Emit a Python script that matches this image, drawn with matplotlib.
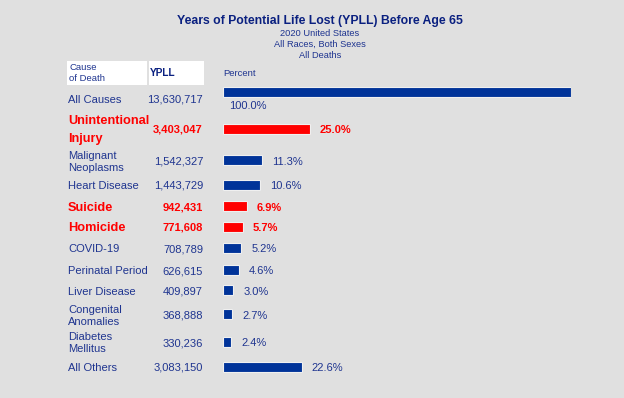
import matplotlib
matplotlib.use("Agg")
import matplotlib.pyplot as plt

# ---- data ----
causes = ["All Causes", "Unintentional\nInjury", "Malignant\nNeoplasms", "Heart Disease",
          "Suicide", "Homicide", "COVID-19", "Perinatal Period", "Liver Disease",
          "Congenital\nAnomalies", "Diabetes\nMellitus", "All Others"]
ypll = [13630717, 3403047, 1542327, 1443729, 942431, 771608, 708789, 626615,
        409897, 368888, 330236, 3083150]
percent = [100.0, 25.0, 11.3, 10.6, 6.9, 5.7, 5.2, 4.6, 3.0, 2.7, 2.4, 22.6]
highlight = [False, True, False, False, True, True, False, False, False, False, False, False]

# ---- layout (pixel positions) ----
W, H = 624, 398
text_y = [100, 130, 162, 186, 208, 228, 249, 271, 292, 316, 343, 368]
bar_y = [92, 129, 160, 185, 206, 227, 248, 270, 290, 314, 342, 367]

BG = "#e0e0e0"
BLUE = "#003399"
NAVY = "#1f3590"
TITLE = "#0a2080"
RED = "#ff0000"

plt.rcParams['font.family'] = ['Liberation Sans', 'DejaVu Sans']

fig = plt.figure(figsize=(W / 100, H / 100), dpi=100, facecolor=BG)

# overlay axes in pixel coordinates for text
ax = fig.add_axes([0, 0, 1, 1])
ax.set_xlim(0, W)
ax.set_ylim(H, 0)
ax.axis("off")

# bar axes: x in percent
bx = fig.add_axes([223 / W, 0, 348 / W, 1])
bx.set_xlim(0, 100)
bx.set_ylim(H, 0)
bx.axis("off")
bx.patch.set_alpha(0)

# titles
ax.text(320, 21, "Years of Potential Life Lost (YPLL) Before Age 65", ha="center", va="center",
        fontsize=8.8, fontweight="bold", color=TITLE)
for yy, s in zip([33, 44, 55], ["2020 United States", "All Races, Both Sexes", "All Deaths"]):
    ax.text(320, yy, s, ha="center", va="center", fontsize=6.7, color=NAVY)

# header boxes
ax.add_patch(plt.Rectangle((67, 61), 80, 24, facecolor="white", edgecolor="none"))
ax.add_patch(plt.Rectangle((149, 61), 55, 24, facecolor="white", edgecolor="none"))
ax.text(69, 73, "Cause\nof Death", ha="left", va="center", fontsize=6.8, color=NAVY, linespacing=1.25)
ax.text(150, 73, "YPLL", ha="left", va="center", fontsize=7.3, fontweight="bold", color=TITLE)
ax.text(223, 73, "Percent", ha="left", va="center", fontsize=6.8, color=NAVY)

# rows
for i, (c, v, p, hl) in enumerate(zip(causes, ypll, percent, highlight)):
    col = RED if hl else BLUE
    tcol = RED if hl else NAVY
    fw = "bold" if hl else "normal"
    fs = 9.2 if hl else 8.0
    ax.text(68, text_y[i], c, ha="left", va="center", fontsize=fs, fontweight=fw,
            color=tcol, linespacing=1.57 if hl else 1.25)
    ax.text(203, text_y[i], f"{v:,}", ha="right", va="center", fontsize=8.0,
            fontweight=fw, color=tcol)
    bx.barh(bar_y[i], p, height=10.5, color=col, edgecolor="#f0f0f0", linewidth=0.8)
    if i == 0:
        bx.text(1.8, 106, f"{p:.1f}%", ha="left", va="center", fontsize=8.0, color=NAVY)
    else:
        bx.text(p + 2.9, text_y[i], f"{p:.1f}%", ha="left", va="center", fontsize=8.0,
                fontweight=fw, color=tcol)

fig.savefig("out.png", dpi=100, facecolor=BG)
